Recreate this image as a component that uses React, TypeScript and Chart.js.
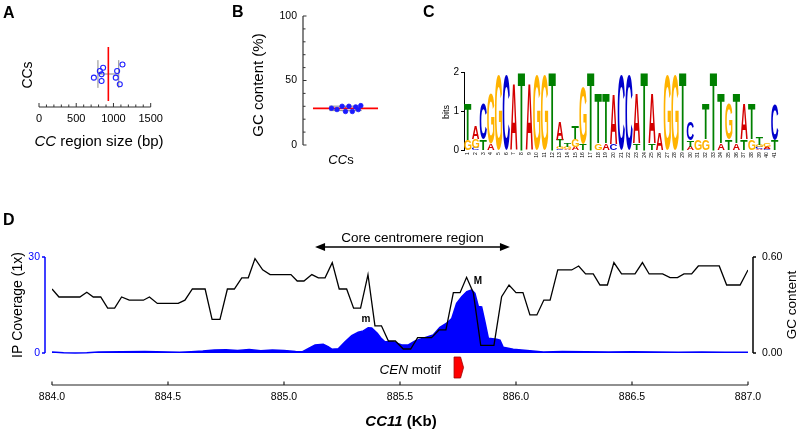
import React, { useEffect, useRef } from "react";
import { Chart, registerables } from "chart.js";

Chart.register(...registerables);

const FONT = "'Liberation Sans', Arial, Helvetica, sans-serif";
Chart.defaults.font.family = FONT;
Chart.defaults.color = "#000";

// ---------------- Panel A : CC region size ----------------
const ccRegionSizes = [1121, 861, 817, 1049, 840, 737, 1031, 840, 1085];
const ccRegionJitter = [0.29, 0.19, 0.09, 0.09, -0.01, -0.11, -0.11, -0.21, -0.31];
const sizeTickLabels = [0, 500, 1000, 1500];

// ---------------- Panel B : GC content ----------------
const ccGcPercent = [28.5, 27.5, 30, 26, 30, 26, 29.5, 27.5, 30.5];
const ccGcJitter = [-0.33, -0.2, -0.08, 0.0, 0.08, 0.16, 0.24, 0.3, 0.36];
const gcTickLabels = [0, 50, 100];

// ---------------- Panel C : sequence logo ----------------
const logoPositions = [
  "1", "2", "3", "4", "5", "6", "7", "8", "9", "10", "11", "12", "13", "14",
  "15", "16", "17", "18", "19", "20", "21", "22", "23", "24", "25", "26", "27",
  "28", "29", "30", "31", "32", "33", "34", "35", "36", "37", "38", "39", "40", "41",
];
// letters of each column, bottom -> top
const logoLetters = [
  "GT", "CGA", "TC", "AG", "G", "C", "A", "T", "A", "G", "G", "T", "CGTA", "AGT",
  "AGT", "TG", "T", "GT", "AT", "CA", "C", "C", "TA", "T", "TA", "A", "G", "G",
  "T", "ATC", "G", "GT", "T", "AT", "TG", "AT", "TA", "GT", "ACGT", "CAG", "TC",
];
// heights in bits, bottom -> top
const logoHeights = [
  [0.27, 0.92], [0.06, 0.23, 0.32], [0.29, 0.9], [0.17, 1.28], [1.94], [1.94],
  [1.7], [2.0], [1.7], [1.94], [1.94], [2.0], [0.04, 0.05, 0.19, 0.45],
  [0.04, 0.05, 0.09], [0.1, 0.19, 0.34], [0.17, 1.45], [2.0], [0.19, 1.26],
  [0.19, 1.26], [0.17, 1.28], [1.94], [1.94], [0.19, 1.26], [2.0], [0.19, 1.26],
  [0.45], [1.94], [1.94], [2.0], [0.1, 0.17, 0.47], [0.29], [0.29, 0.9], [2.0],
  [0.19, 1.26], [0.29, 0.9], [0.19, 1.26], [0.29, 0.9], [0.29, 0.9],
  [0.04, 0.05, 0.06, 0.21], [0.04, 0.06, 0.1], [0.27, 0.92],
];
const logoColors: Record<string, string> = { A: "#d40000", C: "#0000cc", G: "#ffb300", T: "#008000" };
const bitsTicks = [0, 1, 2];

// ---------------- Panel D : CC11 coverage / GC ----------------
const gcKb = [
  884.0, 884.03, 884.12, 884.15, 884.178, 884.21, 884.24, 884.27, 884.3, 884.333,
  884.394, 884.42, 884.454, 884.544, 884.573, 884.605, 884.66, 884.69, 884.724, 884.756,
  884.786, 884.818, 884.846, 884.875, 884.908, 884.94, 885.03, 885.057, 885.086, 885.12,
  885.148, 885.177, 885.208, 885.238, 885.27, 885.3, 885.33, 885.362, 885.392, 885.42,
  885.45, 885.48, 885.514, 885.546, 885.576, 885.636, 885.668, 885.698, 885.73, 885.759,
  885.787, 885.816, 885.848, 885.905, 885.938, 885.97, 886.0, 886.03, 886.06, 886.09,
  886.12, 886.147, 886.18, 886.24, 886.27, 886.3, 886.333, 886.362, 886.394, 886.422,
  886.455, 886.513, 886.545, 886.574, 886.632, 886.664, 886.696, 886.724, 886.757, 886.786,
  886.876, 886.908, 886.966, 887.0,
];
const gcContent = [
  0.40, 0.35, 0.35, 0.38, 0.35, 0.35, 0.28, 0.28, 0.35, 0.33,
  0.33, 0.35, 0.31, 0.31, 0.33, 0.40, 0.40, 0.21, 0.21, 0.40,
  0.40, 0.47, 0.47, 0.59, 0.52, 0.49, 0.49, 0.45, 0.45, 0.49,
  0.47, 0.47, 0.565, 0.40, 0.40, 0.28, 0.28, 0.49, 0.17, 0.17,
  0.075, 0.075, 0.025, 0.025, 0.096, 0.096, 0.144, 0.144, 0.377, 0.377,
  0.473, 0.377, 0.048, 0.048, 0.352, 0.425, 0.377, 0.377, 0.238, 0.238,
  0.331, 0.331, 0.519, 0.519, 0.544, 0.494, 0.494, 0.425, 0.425, 0.565,
  0.494, 0.494, 0.565, 0.494, 0.494, 0.471, 0.471, 0.494, 0.494, 0.544,
  0.544, 0.425, 0.425, 0.519,
];
const covKb = [
  884.0, 884.05, 884.1, 884.15, 884.2, 884.3, 884.4, 884.5, 884.55, 884.6,
  884.65, 884.7, 884.75, 884.8, 884.85, 884.9, 884.95, 885.0, 885.05, 885.08,
  885.108, 885.134, 885.169, 885.19, 885.206, 885.234, 885.263, 885.292, 885.32, 885.342,
  885.363, 885.378, 885.402, 885.42, 885.435, 885.471, 885.507, 885.536, 885.565, 885.6,
  885.643, 885.672, 885.701, 885.723, 885.744, 885.766, 885.788, 885.809, 885.823, 885.838,
  885.852, 885.866, 885.881, 885.917, 885.931, 885.945, 885.988, 886.06, 886.118, 886.2,
  886.3, 886.4, 886.5, 886.6, 886.7, 886.8, 886.9, 887.0,
];
const covDepth = [
  0.3, 0.1, 0.0, 0.1, 0.3, 0.4, 0.5, 0.3, 0.2, 0.4,
  0.6, 0.9, 1.0, 0.8, 1.1, 0.7, 0.9, 0.8, 0.5, 0.4,
  1.5, 2.5, 2.7, 2.0, 1.2, 1.3, 3.5, 5.4, 6.5, 6.9,
  7.9, 7.8, 6.2, 4.5, 3.5, 3.5, 2.5, 2.5, 3.75, 4.6,
  5.6, 8.0, 9.3, 10.8, 15.5, 17.6, 19.2, 19.7, 18.6, 14.5,
  14.4, 9.8, 4.6, 4.3, 4.0, 1.8, 1.2, 0.7, 0.3, 0.5,
  0.4, 0.3, 0.4, 0.3, 0.2, 0.3, 0.2, 0.2,
];
const dAxisTicks = [884.0, 884.5, 885.0, 885.5, 886.0, 886.5, 887.0];
const coverageTicks = [0, 30];
const gcContentTicks = [0, 0.6];
const coreRegionKb = [885.134, 885.974];
const cenMotifKb = [885.733, 885.774];
const peakLabels = ["m", "M"];
const peakLabelKb = [885.353, 885.836];
const peakLabelCoverage = [10.6, 22.5];

// ---------------- helpers ----------------
const mean = (a: number[]) => a.reduce((s, v) => s + v, 0) / a.length;
const sd = (a: number[]) => {
  const m = mean(a);
  return Math.sqrt(a.reduce((s, v) => s + (v - m) * (v - m), 0) / (a.length - 1));
};

function line(ctx: CanvasRenderingContext2D, x1: number, y1: number, x2: number, y2: number) {
  ctx.beginPath();
  ctx.moveTo(x1, y1);
  ctx.lineTo(x2, y2);
  ctx.stroke();
}

function text(ctx: CanvasRenderingContext2D, s: string, x: number, y: number, font: string,
  align: CanvasTextAlign = "center", color = "#000", baseline: CanvasTextBaseline = "middle") {
  ctx.font = font;
  ctx.fillStyle = color;
  ctx.textAlign = align;
  ctx.textBaseline = baseline;
  ctx.fillText(s, x, y);
}

function rotText(ctx: CanvasRenderingContext2D, s: string, x: number, y: number, font: string, color = "#000") {
  ctx.save();
  ctx.translate(x, y);
  ctx.rotate(-Math.PI / 2);
  text(ctx, s, 0, 0, font, "center", color);
  ctx.restore();
}

function parts(ctx: CanvasRenderingContext2D, ps: { t: string; f: string }[], x: number, y: number,
  align: "left" | "center" | "right", color = "#000") {
  let total = 0;
  for (const p of ps) { ctx.font = p.f; total += ctx.measureText(p.t).width; }
  let cx = align === "left" ? x : align === "center" ? x - total / 2 : x - total;
  ctx.textAlign = "left";
  ctx.textBaseline = "middle";
  ctx.fillStyle = color;
  for (const p of ps) { ctx.font = p.f; ctx.fillText(p.t, cx, y); cx += ctx.measureText(p.t).width; }
}

function panelLabel(ctx: CanvasRenderingContext2D, s: string, x: number, y: number) {
  text(ctx, s, x, y, `bold 16px ${FONT}`, "left", "#000", "alphabetic");
}

function glyph(ctx: CanvasRenderingContext2D, ch: string, color: string, x: number, y: number, w: number, h: number) {
  if (h < 0.4) return;
  ctx.save();
  ctx.font = `bold 100px ${FONT}`;
  const m = ctx.measureText(ch);
  const gw = m.actualBoundingBoxLeft + m.actualBoundingBoxRight;
  const gh = m.actualBoundingBoxAscent + m.actualBoundingBoxDescent;
  ctx.translate(x, y);
  ctx.scale(w / gw, h / gh);
  ctx.fillStyle = color;
  ctx.textAlign = "left";
  ctx.textBaseline = "alphabetic";
  ctx.fillText(ch, m.actualBoundingBoxLeft, m.actualBoundingBoxAscent);
  ctx.restore();
}

// ---------------- chart configs ----------------
const noLegend = { legend: { display: false }, tooltip: { enabled: false } };

function makeA(): any {
  const m = mean(ccRegionSizes), s = sd(ccRegionSizes);
  const gray = { borderColor: "#8a8a8a", borderWidth: 1, pointRadius: 0, order: 2 };
  return {
    type: "line",
    data: {
      datasets: [
        { data: [{ x: m, y: -0.82 }, { x: m, y: 0.82 }], borderColor: "#ff0000", borderWidth: 1.6, pointRadius: 0, order: 0 },
        { data: [{ x: m - s, y: 0 }, { x: m + s, y: 0 }], ...gray },
        { data: [{ x: m - s, y: -0.42 }, { x: m - s, y: 0.42 }], ...gray },
        { data: [{ x: m + s, y: -0.42 }, { x: m + s, y: 0.42 }], ...gray },
        {
          data: ccRegionSizes.map((v, i) => ({ x: v, y: ccRegionJitter[i] })),
          showLine: false, pointRadius: 2.5, pointBorderWidth: 1.1,
          pointBorderColor: "#2020ff", pointBackgroundColor: "rgba(255,255,255,0)", order: 1,
        },
      ],
    },
    options: {
      animation: false, responsive: false, maintainAspectRatio: false,
      layout: { padding: { left: 39, right: 29.3, top: 41, bottom: 0 } },
      plugins: noLegend,
      scales: {
        x: {
          type: "linear", min: 0, max: 1500,
          afterBuildTicks: (sc: any) => { sc.ticks = sizeTickLabels.map((v) => ({ value: v })); },
          ticks: { callback: (v: any) => String(v), font: { size: 11 }, color: "#000", padding: 5, maxRotation: 0, autoSkip: false },
          grid: { display: false, drawTicks: false },
          border: { display: false },
          afterFit: (sc: any) => { sc.height = 53; },
        },
        y: { type: "linear", min: -1, max: 1, display: false },
      },
    },
    plugins: [{
      id: "panelA",
      afterDraw(chart: any) {
        const { ctx, chartArea: ca, scales } = chart;
        ctx.save();
        ctx.strokeStyle = "#333";
        ctx.lineWidth = 1.2;
        line(ctx, ca.left, ca.bottom, ca.right, ca.bottom);
        ctx.lineWidth = 1;
        for (let v = 0; v <= 1500; v += 100) {
          const px = scales.x.getPixelForValue(v);
          line(ctx, px, ca.bottom, px, ca.bottom - (v % 500 === 0 ? 4 : 2.5));
        }
        parts(ctx, [
          { t: "CC", f: `italic 15px ${FONT}` },
          { t: " region size (bp)", f: `15px ${FONT}` },
        ], 99, 141.7, "center");
        rotText(ctx, "CCs", 28, 75, `14px ${FONT}`);
        panelLabel(ctx, "A", 3, 18);
        ctx.restore();
      },
    }],
  };
}

function makeB(): any {
  const m = mean(ccGcPercent), s = sd(ccGcPercent);
  const gray = { borderColor: "#8a8a8a", borderWidth: 1, pointRadius: 0, order: 2 };
  return {
    type: "line",
    data: {
      datasets: [
        {
          data: ccGcPercent.map((v, i) => ({ x: ccGcJitter[i], y: v })),
          showLine: false, pointRadius: 2.3, pointBorderWidth: 0.8,
          pointBorderColor: "#1a1aff", pointBackgroundColor: "#1a1aff", order: 0,
        },
        { data: [{ x: -0.765, y: m }, { x: 0.765, y: m }], borderColor: "#ff0000", borderWidth: 1.6, pointRadius: 0, order: 1 },
        { data: [{ x: 0, y: m - s }, { x: 0, y: m + s }], ...gray },
        { data: [{ x: -0.38, y: m - s }, { x: 0.38, y: m - s }], ...gray },
        { data: [{ x: -0.38, y: m + s }, { x: 0.38, y: m + s }], ...gray },
      ],
    },
    options: {
      animation: false, responsive: false, maintainAspectRatio: false,
      layout: { padding: { left: 0, right: 32, top: 16, bottom: 25 } },
      plugins: noLegend,
      scales: {
        x: { type: "linear", min: -1, max: 1, display: false },
        y: {
          type: "linear", min: 0, max: 100,
          afterBuildTicks: (sc: any) => { sc.ticks = gcTickLabels.map((v) => ({ value: v })); },
          ticks: { callback: (v: any) => String(v), font: { size: 10.5 }, color: "#000", padding: 6 },
          grid: { display: false, drawTicks: false },
          border: { display: false },
          afterFit: (sc: any) => { sc.width = 123; },
        },
      },
    },
    plugins: [{
      id: "panelB",
      afterDraw(chart: any) {
        const { ctx, chartArea: ca, scales } = chart;
        ctx.save();
        ctx.strokeStyle = "#333";
        ctx.lineWidth = 1.2;
        const y0 = scales.y.getPixelForValue(0), y100 = scales.y.getPixelForValue(100);
        line(ctx, ca.left, y0, ca.left, y100);
        ctx.lineWidth = 1;
        for (let v = 0; v <= 100; v += 10) {
          const py = scales.y.getPixelForValue(v);
          line(ctx, ca.left, py, ca.left + (v % 50 === 0 ? 3.5 : 2.5), py);
        }
        rotText(ctx, "GC content (%)", 79.3, 85, `15px ${FONT}`);
        parts(ctx, [
          { t: "CC", f: `italic 13px ${FONT}` },
          { t: "s", f: `13px ${FONT}` },
        ], 161, 160, "center");
        panelLabel(ctx, "B", 52, 17);
        ctx.restore();
      },
    }],
  };
}

function makeC(): any {
  const ranks = Math.max(...logoHeights.map((h) => h.length));
  const datasets = [];
  for (let r = 0; r < ranks; r++) {
    datasets.push({
      data: logoHeights.map((h) => h[r] ?? 0),
      backgroundColor: "rgba(0,0,0,0)",
      borderWidth: 0,
      categoryPercentage: 1,
      barPercentage: 0.94,
    });
  }
  return {
    type: "bar",
    data: { labels: logoPositions, datasets },
    options: {
      animation: false, responsive: false, maintainAspectRatio: false,
      layout: { padding: { left: 0, right: 21.4, top: 72.7, bottom: 0 } },
      plugins: noLegend,
      scales: {
        x: {
          stacked: true,
          grid: { display: false, drawTicks: false },
          border: { display: false },
          ticks: { font: { size: 5 }, color: "#000", minRotation: 90, maxRotation: 90, autoSkip: false, padding: 1.5 },
          afterFit: (sc: any) => { sc.height = 19.3; },
        },
        y: {
          stacked: true, min: 0, max: 2,
          afterBuildTicks: (sc: any) => { sc.ticks = bitsTicks.map((v) => ({ value: v })); },
          ticks: { font: { size: 10 }, color: "#000", padding: 2 },
          grid: { display: true, drawOnChartArea: false, drawTicks: true, tickLength: 3, color: "#000" },
          border: { display: true, color: "#000", width: 1 },
          afterFit: (sc: any) => { sc.width = 44; },
        },
      },
    },
    plugins: [{
      id: "logo",
      afterDatasetsDraw(chart: any) {
        const { ctx } = chart;
        for (let r = 0; r < ranks; r++) {
          const meta = chart.getDatasetMeta(r);
          meta.data.forEach((el: any, i: number) => {
            const ch = logoLetters[i][r];
            if (!ch) return;
            const props = el.getProps(["x", "y", "base", "width"], true);
            const top = Math.min(props.y, props.base);
            const h = Math.abs(props.base - props.y);
            glyph(ctx, ch, logoColors[ch], props.x - props.width / 2, top, props.width, h);
          });
        }
      },
      afterDraw(chart: any) {
        const { ctx } = chart;
        ctx.save();
        rotText(ctx, "bits", 26.7, 112, `9px ${FONT}`);
        panelLabel(ctx, "C", 3, 17);
        ctx.restore();
      },
    }],
  };
}

function makeD(): any {
  return {
    type: "line",
    data: {
      datasets: [
        {
          data: gcKb.map((k, i) => ({ x: k, y: gcContent[i] })),
          yAxisID: "yR", borderColor: "#000", borderWidth: 1.3, pointRadius: 0, fill: false, order: 0,
        },
        {
          data: covKb.map((k, i) => ({ x: k, y: covDepth[i] })),
          yAxisID: "yL", borderColor: "#0000ff", backgroundColor: "#0000ff", borderWidth: 1.5,
          pointRadius: 0, fill: "origin", order: 1,
        },
      ],
    },
    options: {
      animation: false, responsive: false, maintainAspectRatio: false,
      layout: { padding: { left: 0, right: 0, top: 57, bottom: 0 } },
      plugins: noLegend,
      scales: {
        x: {
          type: "linear", min: 884, max: 887,
          afterBuildTicks: (sc: any) => { sc.ticks = dAxisTicks.map((v) => ({ value: v })); },
          ticks: { callback: (v: any) => Number(v).toFixed(1), font: { size: 10.5 }, color: "#000", padding: 6, maxRotation: 0, autoSkip: false },
          grid: { display: false, drawTicks: false },
          border: { display: false },
          afterFit: (sc: any) => { sc.height = 47; },
        },
        yL: {
          type: "linear", position: "left", min: -10, max: 30,
          afterBuildTicks: (sc: any) => { sc.ticks = coverageTicks.map((v) => ({ value: v })); },
          ticks: { callback: (v: any) => String(v), font: { size: 10.5 }, color: "#0000ff", padding: 12 },
          grid: { display: false, drawTicks: false },
          border: { display: false },
          afterFit: (sc: any) => { sc.width = 52; },
        },
        yR: {
          type: "linear", position: "right", min: -0.2, max: 0.6,
          afterBuildTicks: (sc: any) => { sc.ticks = gcContentTicks.map((v) => ({ value: v })); },
          ticks: { callback: (v: any) => Number(v).toFixed(2), font: { size: 10.5 }, color: "#000", padding: 14 },
          grid: { display: false, drawTicks: false },
          border: { display: false },
          afterFit: (sc: any) => { sc.width = 52; },
        },
      },
    },
    plugins: [{
      id: "panelD",
      afterDraw(chart: any) {
        const { ctx, chartArea: ca, scales } = chart;
        const x = scales.x, yL = scales.yL, yR = scales.yR;
        ctx.save();
        // x axis
        ctx.strokeStyle = "#222";
        ctx.lineWidth = 1.2;
        line(ctx, ca.left, ca.bottom, ca.right, ca.bottom);
        for (const v of dAxisTicks) {
          const px = x.getPixelForValue(v);
          line(ctx, px, ca.bottom, px, ca.bottom - 3.5);
        }
        // left axis (coverage)
        const lx = ca.left - 7;
        ctx.strokeStyle = "#0000ff";
        ctx.lineWidth = 1.5;
        line(ctx, lx, yL.getPixelForValue(0), lx, yL.getPixelForValue(30));
        for (const v of coverageTicks) {
          const py = yL.getPixelForValue(v);
          line(ctx, lx - 3, py, lx, py);
        }
        // right axis (GC)
        const rx = ca.right + 5;
        ctx.strokeStyle = "#000";
        ctx.lineWidth = 1.5;
        line(ctx, rx, yR.getPixelForValue(0), rx, yR.getPixelForValue(0.6));
        for (const v of gcContentTicks) {
          const py = yR.getPixelForValue(v);
          line(ctx, rx, py, rx + 3, py);
        }
        // titles
        rotText(ctx, "IP Coverage (1x)", 18, 105, `14px ${FONT}`);
        rotText(ctx, "GC content", 792, 105, `13.5px ${FONT}`);
        parts(ctx, [
          { t: "CC11", f: `italic bold 15px ${FONT}` },
          { t: " (Kb)", f: `bold 15px ${FONT}` },
        ], 401, 222, "center");
        // core centromere region arrow
        const ax1 = x.getPixelForValue(coreRegionKb[0]);
        const ax2 = x.getPixelForValue(coreRegionKb[1]);
        const ay = ca.top - 10;
        ctx.strokeStyle = "#000";
        ctx.fillStyle = "#000";
        ctx.lineWidth = 1.5;
        line(ctx, ax1 + 6, ay, ax2 - 6, ay);
        ctx.beginPath();
        ctx.moveTo(ax1, ay); ctx.lineTo(ax1 + 10, ay - 4); ctx.lineTo(ax1 + 10, ay + 4); ctx.closePath(); ctx.fill();
        ctx.beginPath();
        ctx.moveTo(ax2, ay); ctx.lineTo(ax2 - 10, ay - 4); ctx.lineTo(ax2 - 10, ay + 4); ctx.closePath(); ctx.fill();
        text(ctx, "Core centromere region", (ax1 + ax2) / 2, ca.top - 18.7, `13.5px ${FONT}`);
        // peak labels
        peakLabels.forEach((s, i) => {
          text(ctx, s, x.getPixelForValue(peakLabelKb[i]), yL.getPixelForValue(peakLabelCoverage[i]), `bold 10px ${FONT}`);
        });
        // CEN motif marker
        const m1 = x.getPixelForValue(cenMotifKb[0]);
        const m2 = x.getPixelForValue(cenMotifKb[1]);
        const mt = ca.bottom - 28, mb = ca.bottom - 7;
        ctx.beginPath();
        ctx.moveTo(m1, mt);
        ctx.lineTo(m2 - 3, mt);
        ctx.lineTo(m2, (mt + mb) / 2);
        ctx.lineTo(m2 - 3, mb);
        ctx.lineTo(m1, mb);
        ctx.closePath();
        ctx.fillStyle = "#ff0000";
        ctx.fill();
        ctx.strokeStyle = "#a00000";
        ctx.lineWidth = 0.8;
        ctx.stroke();
        parts(ctx, [
          { t: "CEN", f: `italic 13.5px ${FONT}` },
          { t: " motif", f: `13.5px ${FONT}` },
        ], m1 - 13, ca.bottom - 15, "right");
        panelLabel(ctx, "D", 3, 25);
        ctx.restore();
      },
    }],
  };
}

function ChartBox({ left, top, width, height, make }: { left: number; top: number; width: number; height: number; make: () => any }) {
  const ref = useRef<HTMLCanvasElement>(null);
  useEffect(() => {
    const chart = new Chart(ref.current as HTMLCanvasElement, make());
    return () => chart.destroy();
  }, []);
  return (
    <canvas
      ref={ref}
      width={width}
      height={height}
      style={{ position: "absolute", left, top, width, height, display: "block" }}
    />
  );
}

export default function App() {
  return (
    <div style={{ position: "absolute", left: 0, top: 0, width: 800, height: 432, background: "#fff", overflow: "hidden" }}>
      <ChartBox left={0} top={0} width={180} height={160} make={makeA} />
      <ChartBox left={180} top={0} width={240} height={170} make={makeB} />
      <ChartBox left={420} top={0} width={380} height={170} make={makeC} />
      <ChartBox left={0} top={200} width={800} height={232} make={makeD} />
    </div>
  );
}
